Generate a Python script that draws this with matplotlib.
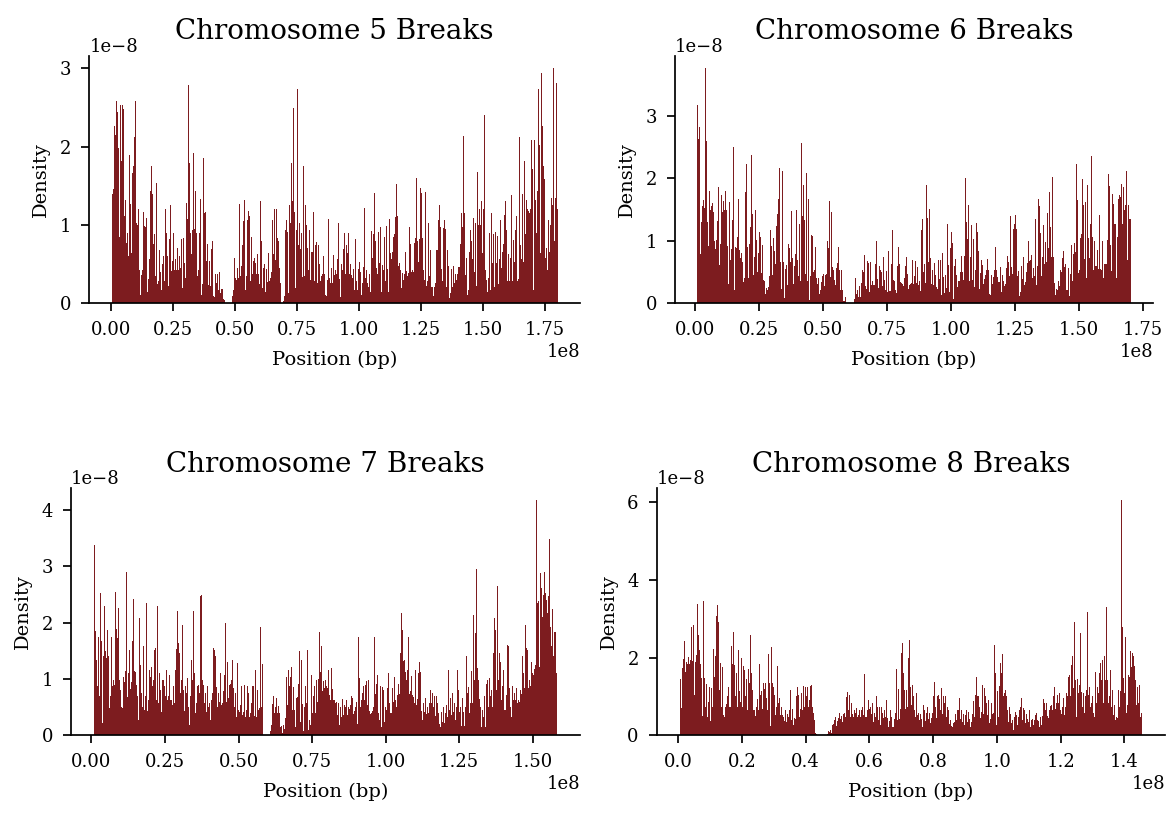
import numpy as np
import matplotlib.pyplot as plt
from matplotlib.ticker import MaxNLocator

plt.rcParams['font.family'] = 'DejaVu Serif'
plt.rcParams['xtick.labelsize'] = 13
plt.rcParams['ytick.labelsize'] = 13
plt.rcParams['xtick.major.pad'] = 7
plt.rcParams['ytick.major.pad'] = 7

# break density per bin (units of 1e-8), read left to right off the plots
chr5_density = [
    1.39, 1.46, 2.27, 2.15, 2.58, 2.44, 1.99, 0.85, 2.53, 1.82, 2.53, 2.48, 1.11, 1.32, 0.77, 0.90,
    0.60, 1.90, 1.27, 0.64, 1.66, 1.76, 2.12, 2.58, 1.03, 1.00, 1.21, 0.43, 0.11, 0.36, 0.43, 1.17,
    0.99, 0.97, 1.09, 0.15, 0.31, 0.56, 1.44, 1.75, 1.40, 0.76, 0.88, 0.35, 1.54, 0.25, 0.28, 0.68,
    0.40, 0.17, 0.50, 0.60, 0.28, 1.20, 0.90, 0.60, 0.22, 0.82, 1.25, 0.41, 0.54, 0.90, 0.43, 0.56,
    0.42, 0.71, 0.42, 0.61, 0.45, 0.82, 0.19, 0.84, 0.51, 0.32, 1.28, 1.08, 2.79, 1.79, 0.90, 0.63,
    0.94, 1.92, 0.95, 1.43, 0.90, 0.35, 0.42, 0.90, 1.33, 0.11, 0.24, 1.86, 1.15, 1.17, 0.54, 0.76,
    0.23, 0.54, 0.22, 0.69, 0.79, 0.09, 0.08, 0.38, 0.26, 0.38, 0.17, 0.40, 0.13, 0.18, 0.18, 0.06,
    0.04, 0, 0, 0, 0, 0, 0, 0,
    0.09, 0.17, 0.58, 0.32, 0.30, 0.45, 0.32, 1.27, 0.35, 0.47, 0.74, 1.05, 1.32, 0.17, 0.35, 1.07,
    1.18, 1.12, 0.28, 0.85, 0.38, 0.54, 0.58, 0.51, 0.37, 0.63, 0.38, 0.24, 1.31, 0.80, 0.19, 0.45,
    0.50, 0.14, 0.44, 0.27, 0.64, 0.28, 0.32, 0.40, 1.06, 0.63, 1.20, 0.55, 1.20, 0.84, 0.79, 0.45,
    0.26, 0, 0,
    0.03, 0.09, 0.94, 1.07, 0.91, 0.13, 1.26, 1.03, 1.79, 1.31, 2.49, 1.16, 0.19, 0.93, 2.74, 0.74,
    1.03, 0.69, 0.90, 0.33, 1.76, 0.35, 1.25, 1.00, 0.70, 0.42, 0.93, 0.30, 0.65, 0.66, 1.17, 0.29,
    0.74, 0.78, 0.26, 0.74, 0.50, 0.28, 0.35, 0.38, 0.61, 0.38, 0.11, 0.09, 0.30, 1.08, 0.32, 0.26,
    0.45, 0.26, 0.62,
    0.36, 0.42, 0.38, 0.56, 1.02, 0.31, 0.08, 0.50, 0.42, 0.69, 0.90, 0.38, 0.75, 0.64, 0.90, 0.38,
    0.50, 0.36, 0.32, 0.44, 0.17, 0.82, 0.29, 0.17, 0.44, 0.53, 0.40, 0.11, 0.26, 0.46, 1.22, 0.32,
    0.43, 0.26, 0.21, 0.38, 0.15, 0.92, 0.58, 0.89, 1.41, 0.80, 0.45, 0.38, 0.91, 0.51, 0.97, 0.14,
    0.49, 0.43, 0.85, 0.29, 0.99, 0.44, 0.14, 1.08, 0.64, 0.56, 0.65, 0.85, 0.89, 1.10, 1.53, 1.12,
    0.48, 0.51, 0.43, 0.20, 0.39, 0.30, 0.38, 0.66, 0.41, 0.35, 0.39, 0.97, 0.76, 0.40, 0.43, 0.40,
    0.77, 0.83, 1.60, 0.80, 0.53, 0.82, 1.47, 1.41, 0.83, 0.43, 0.30, 1.42, 0.22, 0.29, 1.03, 0.35,
    0.68, 0.21, 0.21, 0.09, 0.21, 0.26, 0.68, 0.68, 1.07, 1.26, 0.97, 0.44, 0.28, 0.96, 1.07, 0.95,
    0.21, 0.68, 0.47, 0.07, 0.13, 0.44, 0.21, 0.48, 0.26, 0.38, 0.30, 0.37, 0.46, 0.76, 1.15, 0.97,
    2.14, 1.15, 0.36, 0.58, 0.11, 0.17, 0.65, 0.93, 0.80, 0.56, 1.09, 0.40, 1.03, 0.22, 1.68, 1.00,
    1.20, 1.00, 1.31, 0.64, 1.20, 2.41, 0.42, 0.30, 0.14, 0.32, 0.90, 0.17, 1.15, 0.51, 0.88, 0.21,
    0.91, 0.52, 0.86, 0.25, 0.56, 1.06, 0.45, 0.66, 0.76, 1.13, 1.31, 0.93, 0.28, 0.63, 0.28, 0.58,
    1.38, 0.28, 0.81, 0.53, 0.93, 1.12, 0.28, 0.31, 2.12, 0.74, 0.56, 1.39, 0.53, 1.82, 0.89, 1.32,
    1.20, 1.18, 1.15, 1.21, 2.09, 1.72, 0.17, 2.09, 1.32, 0.90, 1.44, 2.74, 2.02, 0.64, 2.94, 2.27,
    1.76, 1.59, 0.58, 0.71, 0.42, 1.07, 0.65, 1.00, 1.35, 1.26, 3.01, 0.79, 1.35, 2.82, 1.20,
]

chr6_density = [
    3.18, 2.63, 2.82, 0.79, 1.30, 1.56, 1.66, 1.53, 3.77, 2.59, 1.30, 0.92, 1.80, 1.50, 1.56, 1.60,
    1.46, 1.00, 0.87, 1.01, 1.32, 1.86, 0.61, 0.95, 1.74, 1.46, 1.64, 1.50, 1.80, 1.50, 0.92, 0.31,
    1.62, 0.69, 0.87, 1.34, 2.50, 0.21, 0.90, 0.89, 1.06, 1.67, 0.85, 0.73, 0.81, 0.66, 0.34, 0.41,
    1.78, 2.23, 0.90, 0.41, 0.95, 1.22, 2.38, 1.43, 0.45, 0.74, 1.50, 1.01, 0.50, 0.81, 1.14, 1.06,
    0.49, 0.93, 0.37, 0.36, 0.15, 0.25, 0.21, 0.26, 0.44, 1.18, 0.92, 0.45, 1.05, 0.84, 0.63, 1.24,
    1.43, 1.67, 2.17, 0.66, 0.23, 2.12, 0.66, 0.09, 0.55, 0.61, 0.29, 0.95, 0.89, 0.66, 1.48, 0.73,
    0.31, 0.60, 0.79, 1.50, 0.69, 0.44, 1.27, 0.36, 2.57, 1.40, 1.90, 1.34, 0.47, 2.09, 0.36, 1.67,
    0.05, 0.44, 1.10, 1.08, 0.50, 0.53, 0.90, 0.41, 0.31, 0.41, 0.15, 0.21, 0.34, 0.44, 0.47, 0.28,
    0.45, 0.47, 1.00, 0.89, 1.64, 0.42, 1.46, 0.58, 0.53, 0.37, 0.29, 0.57, 0.65, 0.90, 0.53, 0.21,
    0.53, 0.21, 0.04, 0.04, 0.10,
    0, 0, 0, 0, 0, 0, 0, 0,
    0.07, 0.41, 0.15, 0.21, 0.10, 0.28, 0.10, 0.33, 0.53, 0.50, 0.77, 0.28, 0.23, 0.68, 0.65, 0.18,
    0.66, 0.29, 0.36, 0.29, 0.29, 0.63, 1.00, 0.39, 0.25, 0.60, 0.53, 0.50, 0.28, 0.74, 0.37, 0.21,
    0.52, 0.18, 0.84, 0.20, 0.20, 0.63, 1.18, 0.37, 0.36, 0.21, 0.17, 0.49, 0.60, 0.90, 0.63, 0.34,
    0.33, 0.31, 0.28, 0.41, 0.60, 0.74, 0.47, 0.23, 0.29, 0.31, 0.33,
    0.69, 0.31, 0.44, 0.68, 0.32, 0.58, 0.29, 0.36, 0.20, 1.18, 1.35, 0.50, 0.63, 0.33, 1.90, 1.37,
    0.66, 1.51, 0.73, 0.31, 0.53, 0.29, 0.65, 0.45, 0.26, 0.23, 0.69, 0.39, 0.69, 0.13, 0.80, 0.42,
    0.17, 0.45, 0.25, 1.27, 0.61, 0.18, 0.89, 1.14, 0.97, 0.07, 0.60, 0.71, 0.45, 0.26, 0.36, 0.36,
    0.50, 0.76, 0.50, 0.37, 0.76, 2.01, 1.30, 1.03, 1.58, 0.36, 0.74, 1.26, 0.37, 1.03, 0.26, 0.53,
    1.29, 1.14, 0.84, 0.23, 0.49, 0.69, 0.61, 0.31, 0.39, 0.45, 0.53, 0.71, 0.53, 0.15, 0.13, 0.45,
    0.31, 0.42, 0.53, 0.90, 0.53, 0.42, 0.34, 0.34, 0.58, 0.18, 0.45, 0.36, 0.28, 0.31, 0.57, 0.76,
    0.66, 0.44, 1.40, 0.58, 0.47, 1.19, 1.27, 1.42, 1.19, 0.44, 0.52, 0.12, 0.18, 0.60, 0.39, 0.74,
    0.29, 0.34, 0.50, 0.65, 1.00, 0.68, 0.69, 0.77, 0.41, 0.57, 0.44, 1.35, 0.29, 0.60, 1.67, 1.56,
    1.13, 0.44, 0.74, 1.26, 0.63, 0.98, 0.66, 1.45, 0.89, 1.78, 1.22, 0.74, 2.02, 0.74, 0.33, 0.13,
    0.23, 0.21, 0.36, 0.28, 0.53, 0.50, 0.72, 0.84, 0.58, 0.63, 0.21, 0.21, 0.57, 0.12, 0.47, 0.93,
    0.36, 0.79, 0.97, 0.82, 2.23, 1.66, 0.48, 0.53, 1.05, 1.11, 1.99, 1.58, 0.71, 1.62, 0.41, 1.90,
    1.05, 0.73, 1.27, 2.35, 1.06, 0.53, 1.00, 0.60, 0.60, 0.85, 0.55, 1.42, 0.55, 0.53, 1.00, 0.40,
    0.63, 0.63, 0.63, 1.01, 2.07, 1.88, 0.93, 0.52, 1.75, 1.59, 1.27, 1.27, 0.40, 1.06, 1.67, 1.74,
    1.70, 1.91, 1.27, 1.86, 1.50, 1.58, 2.12, 0.69, 1.58, 1.35, 1.35,
]

chr7_density = [
    3.38, 1.85, 1.34, 0.88, 1.75, 0.70, 2.52, 1.68, 0.21, 1.41, 2.29, 1.49, 1.37, 1.87, 1.40, 0.48,
    0.69, 1.75, 0.87, 0.98, 0.89, 2.54, 1.89, 1.72, 2.26, 0.98, 0.81, 0.51, 0.49, 1.03, 0.95, 1.15,
    2.90, 0.68, 1.10, 1.52, 0.82, 0.95, 1.67, 2.42, 1.15, 1.12, 0.89, 0.69, 0.28, 2.08, 1.25, 0.75,
    0.51, 1.58, 0.45, 0.69, 2.35, 0.44, 0.63, 1.16, 1.04, 1.22, 0.87, 0.98, 1.52, 1.55, 0.63, 2.29,
    0.57, 1.10, 0.81, 0.42, 0.98, 0.87, 0.69, 1.16, 0.63, 0.69, 1.07, 0.63, 0.63, 0.54, 0.87, 0.57,
    1.16, 1.53, 2.20, 1.64, 1.46, 0.75, 0.98, 1.96, 0.81, 0.44, 0.88, 0.75, 1.01, 0.51, 0.18, 0.69,
    1.34, 0.98, 2.20, 1.10, 0.39, 0.57, 0.87, 0.89, 0.75, 2.47, 2.49, 0.98, 0.89, 0.57, 0.75, 0.42,
    0.87, 0.51, 0.57, 0.27, 0.63, 0.75, 1.55, 1.52, 1.40, 0.85, 0.51, 0.75, 0.60, 1.10, 0.54, 0.57,
    0.79, 1.07, 1.99, 0.60, 1.31, 0.66, 0.89, 0.92, 0.98, 1.34, 0.84, 0.51, 0.75, 0.33, 1.29, 0.45,
    0.42, 0.54, 0.88, 0.36, 0.42, 0.89, 0.33, 0.45, 0.87, 0.75, 0.33, 0.39, 0.57, 0.87, 0.88, 0.34,
    1.16, 0.33, 0.81, 0.45, 0.48, 1.92, 0.51, 1.26,
    0, 0, 0, 0, 0, 0, 0,
    0.07, 0.18, 0.55, 0.69, 0.40, 0.51, 0.66, 0.39, 0.52,
    0.40, 0.15, 0.17, 0.04, 0.18, 0.12, 0.30, 1.03, 0.54, 1.16, 0.87, 1.04, 1.22, 0.45, 0.85, 0.45,
    0.14, 0.66, 0.68, 0.91, 1.49, 0.23, 1.34, 0.56, 0.07, 0.50, 0.88, 0.57, 1.51, 0.09, 0.28, 0.18,
    1.07, 0.39, 0.69, 0.88, 0.40, 0.98, 0.60, 1.00, 1.83, 1.13, 1.58, 0.78, 0.97, 0.84, 0.98, 0.87,
    0.84, 1.16, 0.72, 0.63, 1.19, 0.82, 0.62, 0.58, 0.60, 0.36, 0.57, 0.18, 0.51, 0.32, 0.64, 0.36,
    0.54, 0.51, 0.63, 0.36, 0.51, 0.46, 0.54, 0.69, 0.66, 0.38, 0.44, 0.50, 0.59, 0.20, 1.75, 1.01,
    0.51, 0.63, 0.76, 0.87, 0.63, 0.89, 0.97, 0.54, 0.98, 0.44, 0.38, 0.40, 0.44, 0.51, 1.74, 0.73,
    0.92, 1.07, 0.40, 0.28, 0.87, 0.14, 0.85, 0.81, 0.24, 0.51, 0.45, 0.84, 1.10, 0.57, 0.40, 0.39,
    0.84, 0.60, 1.04, 0.62, 0.51, 0.72, 0.92, 0.73, 1.46, 2.17, 1.87, 1.32, 1.34, 1.13, 0.98, 1.16,
    1.74, 0.73, 0.78, 1.05, 0.72, 0.68, 0.57, 1.16, 0.54, 0.64, 1.10, 1.31, 1.13, 0.44, 0.28, 0.57,
    0.42, 0.66, 0.38, 0.51, 0.40, 0.57, 0.81, 0.57, 0.75, 0.51, 0.69, 0.34, 0.69, 0.57, 0.39, 0.20,
    0.15, 0.42, 0.23, 0.51, 0.21, 0.39, 0.54, 0.33, 1.16, 0.45, 0.66, 0.36, 0.76, 0.42, 0.57, 0.28,
    0.51, 1.16, 0.81, 0.42, 0.51, 0.17, 0.66, 0.42, 0.17, 0.51, 1.40, 0.76, 0.85, 0.39, 0.57, 1.15,
    0.57, 2.14, 0.98, 1.81, 2.96, 1.19, 0.98, 0.64, 0.51, 0.15, 0.45, 0.33, 0.69, 0.15, 0.92, 0.98,
    0.51, 1.01, 0.69, 0.81, 0.51, 1.46, 2.08, 1.87, 0.81, 2.65, 0.98, 1.46, 1.31, 0.63, 0.87, 1.16,
    0.45, 0.72, 1.61, 1.58, 0.84, 0.51, 0.33, 0.87, 0.63, 0.75, 0.63, 0.84, 0.57, 0.63, 0.60, 0.81,
    0.73, 1.40, 1.10, 0.84, 1.96, 1.55, 1.52, 0.84, 0.98, 0.87, 1.31, 1.10, 1.07, 1.17, 1.25, 4.18,
    2.35, 2.38, 1.22, 2.88, 2.61, 2.11, 2.49, 2.90, 2.52, 2.41, 2.17, 2.47, 3.48, 1.93, 1.58, 2.24,
    1.41, 1.83, 1.84, 1.10,
]

chr8_density = [
    1.44, 0.70, 1.73, 1.97, 2.43, 1.64, 1.89, 1.83, 2.01, 1.84, 1.94, 2.78, 1.91, 2.84, 1.04, 1.90,
    2.07, 3.38, 2.58, 2.20, 1.84, 1.47, 0.50, 3.47, 1.47, 0.74, 1.32, 0.48, 0.87, 1.25, 0.38, 1.21,
    0.74, 2.21, 1.51, 2.03, 3.06, 3.36, 2.92, 1.17, 1.87, 0.74, 1.77, 0.52, 0.48, 0.74, 0.81, 1.00,
    1.25, 0.74, 0.74, 2.30, 1.83, 2.67, 1.81, 1.00, 1.60, 0.74, 2.20, 1.15, 0.87, 1.98, 0.74, 1.79,
    1.68, 1.00, 1.44, 0.64, 1.70, 1.34, 2.58, 1.60, 1.17, 0.64, 0.65, 0.50, 0.74, 0.94, 0.65, 1.83,
    1.04, 1.15, 0.67, 1.34, 1.18, 1.34, 0.95, 0.64, 2.09, 1.34, 0.24, 2.28, 1.34, 1.24, 1.04, 0.52,
    0.74, 1.79, 0.82, 0.95, 0.52, 0.74, 0.52, 0.48, 0.38, 0.65, 0.33, 0.55, 0.48, 0.65, 1.17, 0.39,
    0.67, 0.27, 0.44, 0.41, 1.01, 1.25, 1.04, 0.48, 0.67, 1.08, 0.64, 1.27, 0.74, 1.24, 1.00, 1.25,
    0.74, 0.91, 1.27, 1.30, 0.74, 0.57, 0.39, 0.07, 0.03, 0.02,
    0, 0, 0, 0, 0, 0, 0, 0, 0,
    0.03, 0.12, 0.09, 0.14, 0.05, 0.27, 0.29, 0.39, 0.48, 0.24, 0.38, 0.44, 0.57, 0.41, 0.50, 0.35,
    0.55, 0.57, 0.48, 0.98, 1.12, 0.65, 1.04, 0.48, 0.82, 0.55, 0.48, 0.65, 0.57, 0.71, 0.48, 0.52,
    0.65, 0.48, 0.65, 0.74, 0.52, 1.57, 0.48, 0.48, 0.65, 0.91, 0.67,
    0.74, 0.55, 0.82, 0.35, 0.58, 0.48, 1.00, 0.74, 0.39, 0.74, 0.27, 0.74, 0.57, 0.44, 0.65, 0.48,
    0.91, 0.44, 0.21, 0.38, 0.64, 0.48, 0.22, 0.22, 0.42, 0.57, 1.70, 0.39, 1.18, 0.41, 0.67, 2.11,
    2.37, 1.60, 1.17, 0.67, 1.17, 0.74, 1.98, 2.46, 1.25, 0.78, 1.30, 1.00, 0.64, 0.48, 1.08, 0.52,
    0.58, 0.39, 0.55, 0.41, 0.21, 0.78, 0.65, 0.38, 0.58, 0.74, 0.41, 0.57, 0.31, 0.44, 0.57, 1.00,
    1.36, 0.74, 0.44, 1.00, 1.04, 0.93, 0.64, 1.21, 0.55, 1.00, 0.82, 1.00, 0.48, 0.74, 0.65, 0.29,
    0.39, 0.24, 0.22, 0.31, 0.35, 0.55, 0.39, 0.65, 0.64, 0.95, 0.41, 0.64, 0.35, 0.55, 0.27, 0.52,
    0.65, 0.33, 0.61, 0.43, 0.21, 0.33, 0.55, 0.88, 0.46, 1.04, 1.49, 1.01, 1.00, 0.74, 0.45, 0.61,
    1.30, 0.55, 1.21, 1.00, 0.82, 0.52, 0.91, 0.31, 0.41, 0.82, 0.55, 0.58, 2.33, 1.60, 0.27, 1.15,
    0.48, 1.27, 1.87, 1.60, 2.09, 1.00, 1.08, 1.17, 1.00, 0.65, 0.33, 0.74, 0.54, 0.31, 0.39, 0.14,
    0.48, 0.61, 0.52, 0.26, 0.46, 0.65, 0.74, 0.95, 0.39, 0.70, 0.65, 0.31, 0.55, 0.41, 0.35, 0.64,
    0.22, 0.39, 0.41, 0.27, 0.39, 0.52, 0.57, 0.39, 0.38, 0.21, 0.48, 0.27, 0.50, 0.94, 0.82, 0.64,
    0.82, 0.50, 0.44, 0.64, 0.76, 0.78, 0.65, 1.00, 1.25, 0.67, 0.82, 1.04, 0.82, 1.08, 0.65, 0.55,
    0.74, 0.95, 0.52, 0.74, 1.08, 1.00, 1.49, 1.55, 1.01, 1.81, 2.04, 1.21, 2.93, 1.42, 0.48, 1.44,
    1.08, 1.30, 2.64, 1.12, 0.74, 1.08, 0.57, 1.00, 1.17, 3.18, 1.04, 1.25, 0.74, 0.82, 1.00, 0.57,
    0.48, 1.64, 0.82, 1.25, 1.08, 1.60, 1.87, 1.42, 1.94, 0.82, 2.03, 1.42, 3.31, 1.42, 0.82, 1.00,
    1.68, 0.74, 1.17, 0.52, 0.78, 0.39, 0.48, 0.44, 1.17, 0.74, 1.15, 6.06, 2.78, 1.47, 1.08, 2.54,
    0.57, 0.78, 1.55, 1.49, 2.18, 1.77, 2.11, 2.03, 1.79, 1.42, 0.78, 1.25, 0.82, 1.30, 0.48, 0.58,
]

chromosomes = ["5", "6", "7", "8"]
densities = [chr5_density, chr6_density, chr7_density, chr8_density]
# first and last binned position (bp)
spans = [(0.4e6, 180.3e6), (0.66e6, 170.6e6), (0.9e6, 158.2e6), (0.5e6, 145.5e6)]

boxes = [
    [0.0764, 0.627, 0.4198, 0.3042],
    [0.5774, 0.627, 0.4089, 0.3042],
    [0.0607, 0.0956, 0.4354, 0.3038],
    [0.5618, 0.0956, 0.4348, 0.3038],
]

bar_color = "#7d1c1f"

fig = plt.figure(figsize=(11.69, 8.13), dpi=100)

for name, dens, (lo, hi), box in zip(chromosomes, densities, spans, boxes):
    ax = fig.add_axes(box)
    dens = np.array(dens) * 1e-8
    edges = np.linspace(lo, hi, len(dens) + 1)
    ax.hist(edges[:-1], bins=edges, weights=dens, color=bar_color)
    ax.set_title(f"Chromosome {name} Breaks", fontsize=20, pad=12)
    ax.set_xlabel("Position (bp)", fontsize=14, labelpad=8)
    ax.set_ylabel("Density", fontsize=14, labelpad=7)
    ax.xaxis.set_major_locator(MaxNLocator(8, steps=[1, 2, 2.5, 5, 10]))
    ax.yaxis.set_major_locator(MaxNLocator(5, steps=[1, 2, 2.5, 5, 10]))
    ax.spines["top"].set_visible(False)
    ax.spines["right"].set_visible(False)
    for s in ("left", "bottom"):
        ax.spines[s].set_linewidth(1.25)
    ax.tick_params(width=1.25, length=6)

fig.savefig("out.png", dpi=100)
